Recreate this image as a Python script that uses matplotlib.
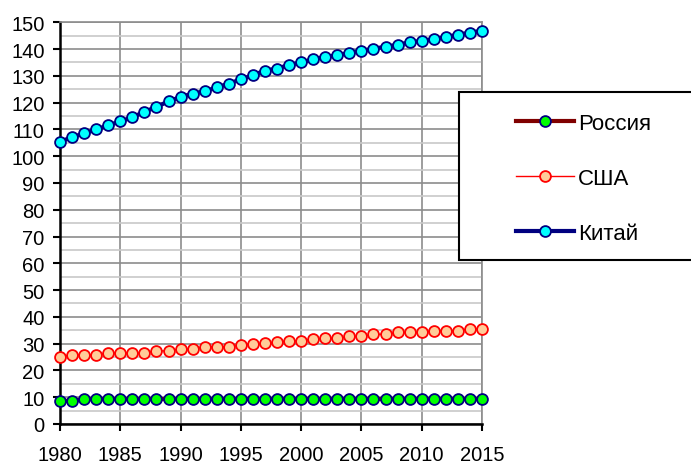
import matplotlib.pyplot as plt
from matplotlib.patches import Rectangle
from matplotlib.ticker import MultipleLocator

plt.rcParams['font.family'] = ['Liberation Sans', 'DejaVu Sans']

years = list(range(1980, 2016))

russia = [8.7, 8.6, 9.3, 9.3, 9.3, 9.3, 9.3, 9.3, 9.3, 9.3,
          9.3, 9.3, 9.3, 9.3, 9.3, 9.3, 9.3, 9.3, 9.3, 9.3,
          9.3, 9.3, 9.3, 9.3, 9.3, 9.3, 9.3, 9.3, 9.3, 9.3,
          9.3, 9.3, 9.3, 9.3, 9.3, 9.3]

usa = [25.1, 25.8, 25.8, 25.8, 26.5, 26.5, 26.5, 26.5, 27.3, 27.3,
       28.0, 28.0, 28.8, 28.8, 28.8, 29.5, 29.9, 30.2, 30.5, 31.1,
       31.1, 31.7, 32.0, 32.0, 32.7, 32.7, 33.5, 33.5, 34.2, 34.2,
       34.2, 34.8, 34.8, 34.8, 35.6, 35.6]

china = [105.4, 107.1, 108.5, 110.0, 111.5, 113.0, 114.5, 116.6, 118.4, 120.5,
         122.1, 123.4, 124.2, 125.7, 127.1, 128.7, 130.2, 132.0, 132.7, 134.1,
         135.0, 136.2, 137.1, 137.7, 138.6, 139.4, 140.1, 140.9, 141.6, 142.5,
         143.1, 143.7, 144.5, 145.4, 146.1, 146.9]

labels = ['Россия', 'США', 'Китай']

fig = plt.figure(figsize=(6.91, 4.64), dpi=100)
ax = fig.add_axes([60 / 691, 39 / 464, 422 / 691, 401.7 / 464])

ax.plot(years, russia, color='#800000', lw=3, marker='o', ms=7.8,
        mfc='#00FF00', mec='#000080', mew=1.3, clip_on=False, zorder=3, label=labels[0])
ax.plot(years, usa, color='#FF0000', lw=1, marker='o', ms=7.8,
        mfc='#FFCC99', mec='#FF0000', mew=1.3, clip_on=False, zorder=3, label=labels[1])
ax.plot(years, china, color='#000080', lw=3, marker='o', ms=7.8,
        mfc='#00FFFF', mec='#000080', mew=1.3, clip_on=False, zorder=3, label=labels[2])

ax.set_xlim(1980, 2015)
ax.set_ylim(0, 150)
ax.xaxis.set_major_locator(MultipleLocator(5))
ax.yaxis.set_major_locator(MultipleLocator(10))
ax.yaxis.set_minor_locator(MultipleLocator(5))

ax.grid(which='major', color='#8C8C8C', lw=1.2)
ax.grid(which='minor', axis='y', color='#C8C8C8', lw=1.2)
ax.set_axisbelow(True)

for s in ['top', 'right']:
    ax.spines[s].set_color('#8C8C8C')
    ax.spines[s].set_linewidth(1.2)
for s in ['left', 'bottom']:
    ax.spines[s].set_color('black')
    ax.spines[s].set_linewidth(1.8)

ax.tick_params(axis='both', which='major', labelsize=14.5, length=5, width=1.5, color='black')
ax.tick_params(axis='y', which='minor', length=0)
ax.tick_params(axis='x', pad=10)
ax.tick_params(axis='y', pad=6)

# legend box running off the right edge
box = Rectangle((459 / 691, (464 - 261) / 464), 0.4, 168 / 464, transform=fig.transFigure,
                facecolor='white', edgecolor='black', lw=1.5, zorder=5)
fig.add_artist(box)
handles, lbls = ax.get_legend_handles_labels()
leg = fig.legend(handles, lbls, loc='upper left', bbox_to_anchor=(516 / 691, (464 - 114) / 464),
                 frameon=False, fontsize=16, handlelength=2.6, handletextpad=0.2,
                 labelspacing=1.53, borderpad=0, borderaxespad=0)
leg.set_zorder(6)

fig.savefig('out.png', dpi=100)
